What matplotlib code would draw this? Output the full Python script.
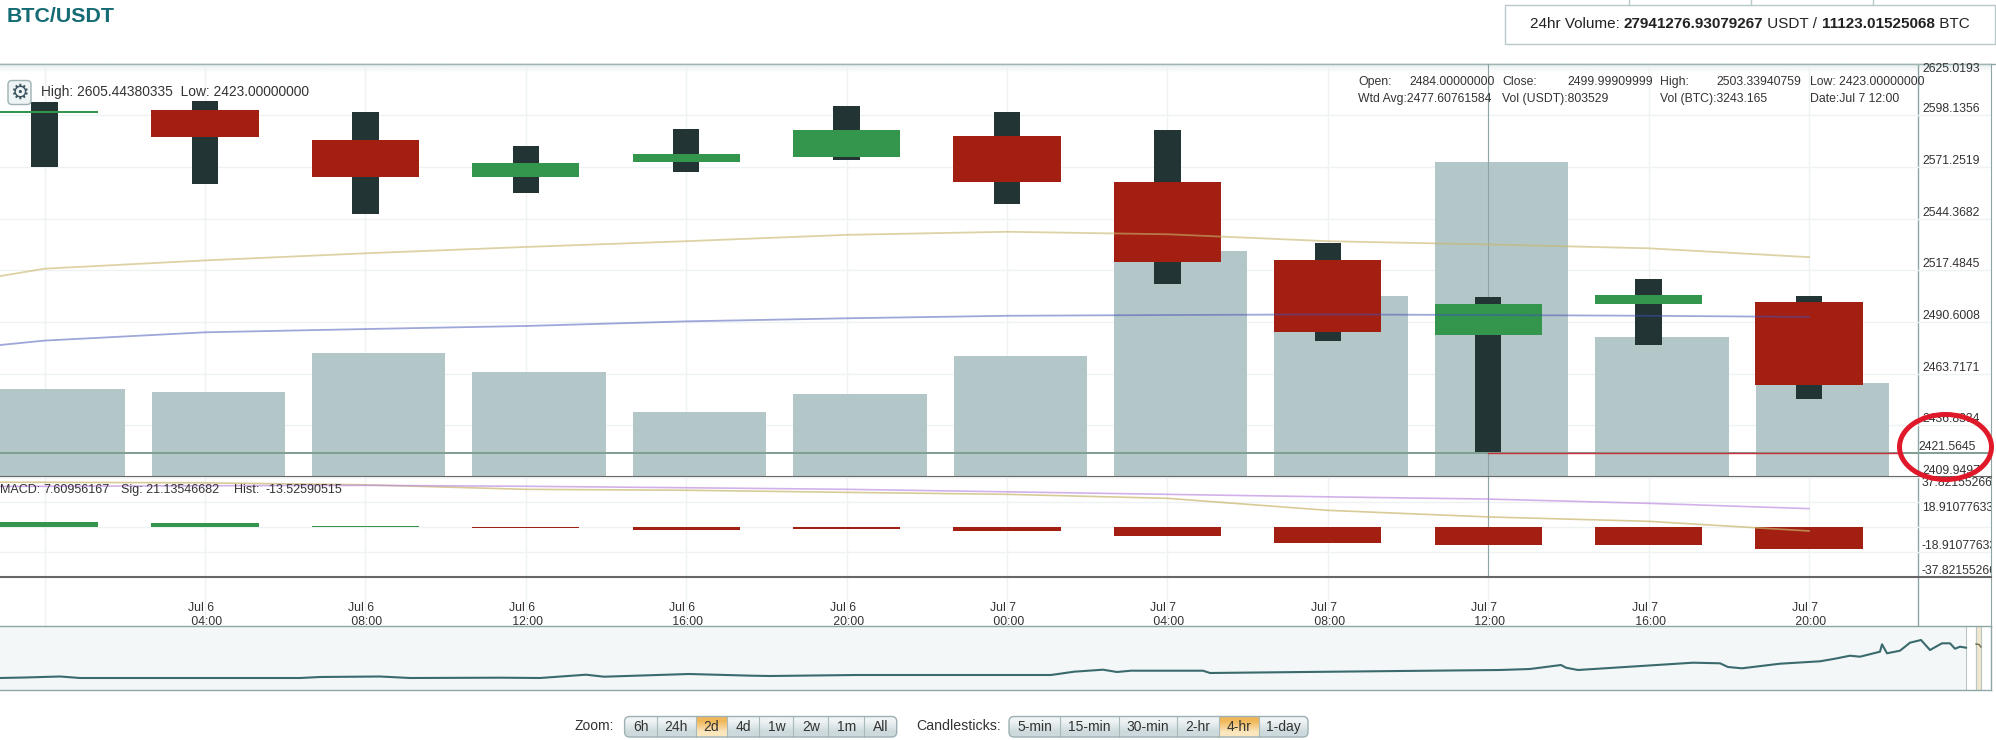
import numpy as np
import matplotlib
matplotlib.use("Agg")
import matplotlib.pyplot as plt
from matplotlib.colors import to_rgb
from matplotlib.patches import Ellipse, FancyBboxPatch, Rectangle

plt.rcParams['font.family'] = ['Liberation Sans', 'DejaVu Sans']

# candles, one every 4 hours from Jul 6 00:00
hours = np.arange(0, 48, 4)
opens = np.array([2599.4, 2600.8, 2585.2, 2566.0, 2573.8, 2576.6, 2587.3, 2563.4, 2522.8, 2484.0, 2499.9, 2500.9])
closes = np.array([2600.4, 2586.8, 2566.0, 2573.1, 2577.9, 2590.4, 2563.4, 2521.8, 2485.4, 2500.0, 2504.6, 2457.8])
highs = np.array([2605.0, 2605.44, 2600.0, 2582.1, 2590.8, 2603.1, 2599.8, 2590.4, 2531.7, 2503.34, 2512.9, 2504.1])
lows = np.array([2571.3, 2562.3, 2546.8, 2557.5, 2568.4, 2574.6, 2552.1, 2510.3, 2480.7, 2423.0, 2478.6, 2450.5])
volumes = np.array([223600, 217100, 315900, 268900, 165200, 210600, 307800, 576700, 460100, 803529, 356400, 239800])

# moving averages, the first point is off the left edge
line_hours = np.arange(-4, 48, 4)
ema_tan = [2504.4, 2518.3, 2522.6, 2526.3, 2529.6, 2532.6, 2535.9, 2537.5, 2536.2, 2532.6, 2530.9, 2528.9, 2524.3]
ema_blue = [2472.6, 2480.9, 2485.2, 2486.9, 2488.5, 2490.9, 2492.5, 2493.8, 2494.2, 2494.5, 2494.2, 2493.8, 2493.2]

hist = np.array([3.8, 2.8, 0.6, -0.8, -2.0, -1.5, -3.0, -7.0, -11.8, -13.53, -13.8, -16.3])
macd = [34.0, 33.8, 33.4, 31.9, 28.5, 27.8, 26.2, 24.7, 21.7, 12.6, 7.61, 4.3, -3.0]
signal = [30.5, 30.8, 31.2, 31.5, 30.8, 29.7, 28.5, 26.6, 24.7, 22.8, 21.14, 17.9, 13.9]

price_ticks = [2625.0193, 2598.1356, 2571.2519, 2544.3682, 2517.4845, 2490.6008, 2463.7171, 2436.8334, 2409.9497]
macd_ticks = [37.82155266, 18.91077633, 0, -18.91077633, -37.82155266]
macd_tick_labels = ['37.82155266', '18.91077633', '', '-18.91077633', '-37.82155266']
time_labels = ['Jul 6\n 04:00', 'Jul 6\n 08:00', 'Jul 6\n 12:00', 'Jul 6\n 16:00', 'Jul 6\n 20:00', 'Jul 7\n 00:00',
               'Jul 7\n 04:00', 'Jul 7\n 08:00', 'Jul 7\n 12:00', 'Jul 7\n 16:00', 'Jul 7\n 20:00']
last_price = 2422.6
cross_hour = 36

# navigator overview line
nav_x = [0, 25, 60, 80, 115, 200, 300, 320, 380, 410, 500, 540, 586, 604, 689, 752, 770, 856, 1051, 1074, 1103, 1117,
         1131, 1203, 1210, 1304, 1400, 1500, 1530, 1561, 1566, 1578, 1630, 1693, 1720, 1728, 1742, 1780, 1820, 1835,
         1850, 1860, 1880, 1882, 1887, 1900, 1910, 1921, 1930, 1942, 1950, 1955, 1960, 1966]
nav_y = [12, 12.5, 13.5, 12, 12, 12, 12, 13, 13.5, 12, 12.3, 12, 15.3, 13.3, 16, 14.3, 14, 15, 15, 18.3, 20.3, 18,
         19.3, 19.3, 17, 18, 19, 20, 21, 25, 22.3, 20, 23.3, 27.3, 26.7, 23, 21.7, 26.3, 28.7, 31.3, 34.3, 33.3,
         38.3, 45.7, 36.7, 39.3, 47.3, 50, 40, 46.7, 46.7, 41.3, 43.3, 42.3]
nav_tail_x = [1976, 1979, 1981]
nav_tail_y = [46, 45.5, 43]

zoom_labels = ['6h', '24h', '2d', '4d', '1w', '2w', '1m', 'All']
candle_labels = ['5-min', '15-min', '30-min', '2-hr', '4-hr', '1-day']

RED = '#a31f12'
GREEN = '#34964c'
WICK = '#233434'
VOLUME = '#b4c7c8'
EDGE = '#8ea5a5'
GRID = '#eef2f2'
TEXT = '#333333'
W, H = 1996, 740
X0, PX_H = 44.6, 40.1   # pixel of hour 0, pixels per hour
XLIM = (-X0 / PX_H, (1991 - X0) / PX_H)
AXIS_HOUR = (1918 - X0) / PX_H


def px_axes(x0, y0, x1, y1, **kw):
    return fig.add_axes([x0 / W, 1 - y1 / H, (x1 - x0) / W, (y1 - y0) / H], **kw)


def gradient(ax, x0, x1, y0, y1, top, bottom, clip=None):
    c = np.array([to_rgb(top), to_rgb(bottom)]).reshape(2, 1, 3)
    im = ax.imshow(c, extent=(x0, x1, y1, y0), aspect='auto', interpolation='bilinear', zorder=1)
    if clip is not None:
        im.set_clip_path(clip)
    return im


def strip(ax):
    for s in ax.spines.values():
        s.set_visible(False)
    ax.tick_params(length=0)


def button_group(ax, x0, x1, dividers, labels, active):
    outline = FancyBboxPatch((x0, 716.5), x1 - x0, 20.5, boxstyle='round,pad=0,rounding_size=5',
                             fc='none', ec='#9db0b3', lw=1, zorder=4)
    ax.add_patch(outline)
    edges = [x0] + dividers + [x1]
    gradient(ax, x0, x1, 716.5, 737, '#eef3f4', '#cddadd', clip=outline)
    for i, label in enumerate(labels):
        if i == active:
            gradient(ax, edges[i], edges[i + 1], 716.5, 737, '#f0b85a', '#fbe6bd', clip=outline).set_zorder(2)
        if i > 0:
            ax.plot([edges[i], edges[i]], [716.5, 737], color='#a9babd', lw=0.8, zorder=3)
        ax.text((edges[i] + edges[i + 1]) / 2, 727, label, ha='center', va='center', fontsize=10, color='#333333', zorder=5)


fig = plt.figure(figsize=(W / 100, H / 100), dpi=100, facecolor='white')

page_bg = px_axes(0, 0, W, H, zorder=-1)
page_bg.axis('off')
gradient(page_bg, 0, 1991, 63.5, 76, '#eef3f3', '#ffffff')
page_bg.set_xlim(0, W)
page_bg.set_ylim(H, 0)

# full height axes: vertical grid and the time labels
ax_time = px_axes(0, 63.5, 1991, 626, zorder=1)
ax_time.patch.set_visible(False)
strip(ax_time)
ax_time.set_xlim(XLIM)
ax_time.set_yticks([])
ax_time.set_xticks(hours)
ax_time.set_xticklabels([''] + time_labels, fontsize=8.8, color=TEXT)
ax_time.tick_params(axis='x', pad=-17)
for t in ax_time.get_xticklabels():
    t.set_multialignment('left')
ax_time.grid(axis='x', color=GRID, lw=1)
ax_time.spines['top'].set_visible(True)
ax_time.spines['top'].set_color(EDGE)
ax_time.spines['top'].set_linewidth(1)
ax_time.spines['right'].set_visible(True)
ax_time.spines['right'].set_color(EDGE)
ax_time.axvline(AXIS_HOUR, color=EDGE, lw=1)

# horizontal price grid stays behind the volume bars
ax_grid = px_axes(0, 63.5, 1991, 477, zorder=1.5)
ax_grid.patch.set_visible(False)
strip(ax_grid)
ax_grid.set_xlim(XLIM)
ax_grid.set_ylim(price_ticks[-1], price_ticks[0])
ax_grid.set_xticks([])
ax_grid.set_yticks(price_ticks)
ax_grid.set_yticklabels([])
ax_grid.grid(axis='y', color=GRID, lw=1)

# volume under the candles
ax_vol = px_axes(0, 63.5, 1991, 477, zorder=2)
ax_vol.patch.set_visible(False)
strip(ax_vol)
ax_vol.set_xlim(XLIM)
ax_vol.set_ylim(0, 1054000)
ax_vol.set_xticks([])
ax_vol.set_yticks([])
ax_vol.bar(hours - 1.334, volumes, width=3.33, align='edge', color=VOLUME)
ax_vol.axvline(cross_hour, color=EDGE, lw=0.8, zorder=3)

ax = px_axes(0, 63.5, 1991, 477, zorder=3)
ax.patch.set_visible(False)
strip(ax)
ax.set_xlim(XLIM)
ax.set_ylim(price_ticks[-1], price_ticks[0])
ax.set_xticks([])
ax.yaxis.tick_right()
ax.set_yticks(price_ticks)
ax.set_yticklabels(['%.4f' % v for v in price_ticks], fontsize=8.8, color=TEXT)
ax.tick_params(axis='y', pad=-49.5)
for i, t in enumerate(ax.get_yticklabels()):
    t.set_va('top' if i == 0 else 'bottom')
ax.spines['bottom'].set_visible(True)
ax.spines['bottom'].set_color('#666666')
ax.spines['bottom'].set_linewidth(1.5)

ax.axhline(last_price, color='#7f9f92', lw=1.4, zorder=2)
ax.plot([cross_hour, 46.2], [last_price, last_price], color='#c8323c', lw=1, zorder=2.5)
ax.bar(hours, highs - lows, bottom=lows, width=0.66, color=WICK, zorder=3)
body_colors = [GREEN if c > o else RED for o, c in zip(opens, closes)]
ax.bar(hours, np.abs(closes - opens), bottom=np.minimum(opens, closes), width=2.67, color=body_colors, zorder=4)
ax.plot(line_hours, ema_tan, color='#c9b56a', alpha=0.6, lw=1.3, zorder=5)
ax.plot(line_hours, ema_blue, color='#3f50b5', alpha=0.5, lw=1.3, zorder=5)
ax.text(AXIS_HOUR, last_price, '2421.5645', fontsize=8.8, color=TEXT, va='bottom', ha='left', zorder=6)
ax.text((41 - X0) / PX_H, 2625.0193 - 28.5 / 1.9226, 'High: 2605.44380335  Low: 2423.00000000',
        fontsize=9.9, color=TEXT, va='center', zorder=6)

# MACD panel
ax_m = px_axes(0, 477, 1991, 577, zorder=3)
ax_m.patch.set_visible(False)
strip(ax_m)
ax_m.set_xlim(XLIM)
ax_m.set_ylim(macd_ticks[-1], macd_ticks[0])
ax_m.set_xticks([])
ax_m.yaxis.tick_right()
ax_m.set_yticks(macd_ticks)
ax_m.set_yticklabels(macd_tick_labels, fontsize=8.8, color=TEXT)
ax_m.tick_params(axis='y', pad=-49.7)
for v, t in zip(macd_ticks, ax_m.get_yticklabels()):
    t.set_va('top' if v > 0 else 'bottom')
    t.set_clip_on(True)
    t.set_clip_box(ax_m.bbox)
ax_m.grid(axis='y', color=GRID, lw=1)
ax_m.set_axisbelow(True)
ax_m.spines['bottom'].set_visible(True)
ax_m.spines['bottom'].set_color('#666666')
ax_m.spines['bottom'].set_linewidth(1.5)
ax_m.bar(hours, hist, width=2.67, color=[GREEN if v > 0 else RED for v in hist], zorder=3)
ax_m.plot(line_hours, macd, color='#c9b56a', alpha=0.7, lw=1.2, zorder=4)
ax_m.plot(line_hours, signal, color='#b57edc', alpha=0.6, lw=1.2, zorder=4)
for x, s in [(0, 'MACD:'), (43, '7.60956167'), (121, 'Sig: 21.13546682'), (234, 'Hist:'), (265, '-13.52590515')]:
    ax_m.text((x - X0) / PX_H, 37.82 - 13 / 1.322, s, fontsize=9, color=TEXT, va='center', ha='left', zorder=5)

# navigator
ax_n = px_axes(0, 626, 1991, 690, zorder=3)
ax_n.set_facecolor('#f3f7f7')
ax_n.set_xlim(0, 1991)
ax_n.set_ylim(0, 64)
ax_n.set_xticks([])
ax_n.set_yticks([])
for s in ax_n.spines.values():
    s.set_color(EDGE)
    s.set_linewidth(1)
ax_n.spines['left'].set_visible(False)
ax_n.axvspan(1966, 1991, color='white', zorder=1)
ax_n.axvspan(1975.7, 1981.3, color='#f1e6cf', zorder=1.5)
for x in [1966, 1975.7, 1981.3]:
    ax_n.axvline(x, color='#b8c6c6', lw=0.8, zorder=1.6)
ax_n.plot(nav_x, nav_y, color='#3b6a6e', lw=1.5, zorder=2)
ax_n.plot(nav_tail_x, nav_tail_y, color='#6b6a4a', lw=1, zorder=2)

# page furniture in pixel coordinates
page = px_axes(0, 0, W, H, zorder=10)
page.axis('off')
page.patch.set_visible(False)

page.text(7, 16, 'BTC/USDT', fontsize=15.4, fontweight='bold', color='#156b73', va='center')

page.add_patch(Rectangle((1505.5, 4.5), 489.5, 39, fc='white', ec='#b9c8c8', lw=1))
for x in [1628.6, 1751.5, 1873.5]:
    page.plot([x, x], [0, 4.5], color='#b9c8c8', lw=1)
page.plot([1991, 1996], [63.5, 63.5], color=EDGE, lw=1)
volume_parts = [('24hr Volume: ', 'normal'), ('27941276.93079267', 'bold'), (' USDT / ', 'normal'),
                ('11123.01525068', 'bold'), (' BTC', 'normal')]
renderer = fig.canvas.get_renderer()
cursor = 1530
for part, weight in volume_parts:
    t = page.text(cursor, 24.5, part, fontsize=11, fontweight=weight, color='#222222', va='center', ha='left')
    # spaces at the end of a string are not measured, so measure with a closing dot
    probe = page.text(0, 0, part + '.', fontsize=11, fontweight=weight)
    dot = page.text(0, 0, '.', fontsize=11, fontweight=weight)
    cursor += (probe.get_window_extent(renderer).width - dot.get_window_extent(renderer).width)
    probe.remove()
    dot.remove()

info_rows = [(82, [(1358, 'Open:'), (1409.5, '2484.00000000'), (1502, 'Close:'), (1567, '2499.99909999'),
                   (1660, 'High:'), (1716.6, '2503.33940759'), (1809.6, 'Low: 2423.00000000')]),
             (99, [(1358, 'Wtd Avg:2477.60761584'), (1502, 'Vol (USDT):803529'), (1660, 'Vol (BTC):3243.165'),
                   (1809.6, 'Date:Jul 7 12:00')])]
for y, items in info_rows:
    for x, s in items:
        page.text(x, y, s, fontsize=8.8, color=TEXT, va='center', ha='left')

page.add_patch(FancyBboxPatch((8, 80.5), 23, 24, boxstyle='round,pad=0,rounding_size=4',
                              fc='#eef3f4', ec='#9db0b3', lw=1))
page.text(19.5, 92.5, '\u2699', fontsize=15, color='#3d5560', ha='center', va='center', family='DejaVu Sans',
          fontweight='bold')

ax_m.axvline(cross_hour, color=EDGE, lw=0.8, zorder=2)

page.text(574.6, 726.5, 'Zoom:', fontsize=10, color=TEXT, va='center')
button_group(page, 624.6, 896.7, [656.7, 695.8, 727.3, 759.5, 793.3, 828.4, 864], zoom_labels, 2)
page.text(916, 726.5, 'Candlesticks:', fontsize=10.2, color=TEXT, va='center')
button_group(page, 1009, 1308, [1060, 1118.8, 1177.4, 1218.7, 1259.5], candle_labels, 4)

page.add_patch(Ellipse((1945.5, 447), 92, 65, fc='none', ec='#e0192a', lw=3.6, zorder=8))

page.set_xlim(0, W)
page.set_ylim(H, 0)

fig.savefig('out.png', dpi=100)
